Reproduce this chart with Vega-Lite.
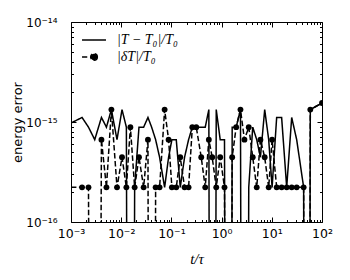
{
  "$schema": "https://vega.github.io/schema/vega-lite/v6.json",
  "width": 251,
  "height": 200,
  "autosize": {"type": "none"},
  "padding": {"left": 71, "top": 22, "right": 28, "bottom": 58},
  "background": "white",
  "config": {
    "view": {"stroke": "black", "strokeWidth": 1},
    "axis": {
      "domain": false,
      "grid": false,
      "tickColor": "black",
      "tickWidth": 1,
      "labelColor": "black",
      "labelFont": "DejaVu Sans",
      "labelFontSize": 12.5,
      "labelOverlap": false,
      "labelBound": false,
      "labelFlush": false,
      "titleColor": "black",
      "titleFontWeight": "normal"
    }
  },
  "data": {
    "values": [
      {"t": 0.00069, "series": "|T − T₀|/T₀", "v": 8.88e-16},
      {"t": 0.00166, "series": "|T − T₀|/T₀", "v": 1.11e-15},
      {"t": 0.00223, "series": "|T − T₀|/T₀", "v": 8.88e-16},
      {"t": 0.00297, "series": "|T − T₀|/T₀", "v": 6.66e-16},
      {"t": 0.00404, "series": "|T − T₀|/T₀", "v": 1.11e-15},
      {"t": 0.00508, "series": "|T − T₀|/T₀", "v": 8.88e-16},
      {"t": 0.00638, "series": "|T − T₀|/T₀", "v": 1.33e-15},
      {"t": 0.00825, "series": "|T − T₀|/T₀", "v": 6.66e-16},
      {"t": 0.01038, "series": "|T − T₀|/T₀", "v": 1.33e-15},
      {"t": 0.01268, "series": "|T − T₀|/T₀", "v": 8.88e-16},
      {"t": 0.01524, "series": "|T − T₀|/T₀", "v": 1e-30},
      {"t": 0.01853, "series": "|T − T₀|/T₀", "v": 2.22e-16},
      {"t": 0.0226, "series": "|T − T₀|/T₀", "v": 8.88e-16},
      {"t": 0.028, "series": "|T − T₀|/T₀", "v": 8.88e-16},
      {"t": 0.0341, "series": "|T − T₀|/T₀", "v": 1.11e-15},
      {"t": 0.0404, "series": "|T − T₀|/T₀", "v": 8.88e-16},
      {"t": 0.0485, "series": "|T − T₀|/T₀", "v": 6.66e-16},
      {"t": 0.0582, "series": "|T − T₀|/T₀", "v": 4.44e-16},
      {"t": 0.0733, "series": "|T − T₀|/T₀", "v": 2.22e-16},
      {"t": 0.0879, "series": "|T − T₀|/T₀", "v": 4.44e-16},
      {"t": 0.1023, "series": "|T − T₀|/T₀", "v": 6.66e-16},
      {"t": 0.125, "series": "|T − T₀|/T₀", "v": 6.66e-16},
      {"t": 0.15, "series": "|T − T₀|/T₀", "v": 2.22e-16},
      {"t": 0.183, "series": "|T − T₀|/T₀", "v": 4.44e-16},
      {"t": 0.22, "series": "|T − T₀|/T₀", "v": 6.66e-16},
      {"t": 0.261, "series": "|T − T₀|/T₀", "v": 8.88e-16},
      {"t": 0.313, "series": "|T − T₀|/T₀", "v": 8.88e-16},
      {"t": 0.393, "series": "|T − T₀|/T₀", "v": 8.88e-16},
      {"t": 0.472, "series": "|T − T₀|/T₀", "v": 8.88e-16},
      {"t": 0.557, "series": "|T − T₀|/T₀", "v": 1.33e-15},
      {"t": 0.65, "series": "|T − T₀|/T₀", "v": 1e-30},
      {"t": 0.782, "series": "|T − T₀|/T₀", "v": 1.33e-15},
      {"t": 0.938, "series": "|T − T₀|/T₀", "v": 6.66e-16},
      {"t": 1.142, "series": "|T − T₀|/T₀", "v": 6.66e-16},
      {"t": 1.372, "series": "|T − T₀|/T₀", "v": 1e-30},
      {"t": 1.625, "series": "|T − T₀|/T₀", "v": 8.88e-16},
      {"t": 1.951, "series": "|T − T₀|/T₀", "v": 8.88e-16},
      {"t": 2.376, "series": "|T − T₀|/T₀", "v": 1.33e-15},
      {"t": 2.853, "series": "|T − T₀|/T₀", "v": 1e-30},
      {"t": 3.474, "series": "|T − T₀|/T₀", "v": 2.22e-16},
      {"t": 4.17, "series": "|T − T₀|/T₀", "v": 8.88e-16},
      {"t": 5.01, "series": "|T − T₀|/T₀", "v": 6.66e-16},
      {"t": 5.93, "series": "|T − T₀|/T₀", "v": 4.44e-16},
      {"t": 7.22, "series": "|T − T₀|/T₀", "v": 1.33e-15},
      {"t": 8.67, "series": "|T − T₀|/T₀", "v": 6.66e-16},
      {"t": 10.14, "series": "|T − T₀|/T₀", "v": 2.22e-16},
      {"t": 12.5, "series": "|T − T₀|/T₀", "v": 1.11e-15},
      {"t": 15.7, "series": "|T − T₀|/T₀", "v": 1.11e-15},
      {"t": 19.8, "series": "|T − T₀|/T₀", "v": 2.22e-16},
      {"t": 24.9, "series": "|T − T₀|/T₀", "v": 1.11e-15},
      {"t": 31.3, "series": "|T − T₀|/T₀", "v": 6.66e-16},
      {"t": 43.1, "series": "|T − T₀|/T₀", "v": 2.22e-16},
      {"t": 49.9, "series": "|T − T₀|/T₀", "v": 1e-30},
      {"t": 58.5, "series": "|T − T₀|/T₀", "v": 1.33e-15},
      {"t": 100, "series": "|T − T₀|/T₀", "v": 1.55e-15},
      {"t": 0.00069, "series": "|δT|/T₀", "v": 2.22e-16},
      {"t": 0.00166, "series": "|δT|/T₀", "v": 2.22e-16},
      {"t": 0.00223, "series": "|δT|/T₀", "v": 2.22e-16},
      {"t": 0.00297, "series": "|δT|/T₀", "v": 1e-30},
      {"t": 0.00404, "series": "|δT|/T₀", "v": 6.66e-16},
      {"t": 0.00508, "series": "|δT|/T₀", "v": 2.22e-16},
      {"t": 0.00638, "series": "|δT|/T₀", "v": 1.33e-15},
      {"t": 0.00825, "series": "|δT|/T₀", "v": 2.22e-16},
      {"t": 0.01038, "series": "|δT|/T₀", "v": 4.44e-16},
      {"t": 0.01268, "series": "|δT|/T₀", "v": 2.22e-16},
      {"t": 0.01524, "series": "|δT|/T₀", "v": 8.88e-16},
      {"t": 0.01853, "series": "|δT|/T₀", "v": 2.22e-16},
      {"t": 0.0226, "series": "|δT|/T₀", "v": 4.44e-16},
      {"t": 0.028, "series": "|δT|/T₀", "v": 2.22e-16},
      {"t": 0.0341, "series": "|δT|/T₀", "v": 6.66e-16},
      {"t": 0.0404, "series": "|δT|/T₀", "v": 1e-30},
      {"t": 0.0485, "series": "|δT|/T₀", "v": 2.22e-16},
      {"t": 0.0582, "series": "|δT|/T₀", "v": 2.22e-16},
      {"t": 0.0733, "series": "|δT|/T₀", "v": 1.33e-15},
      {"t": 0.0879, "series": "|δT|/T₀", "v": 6.66e-16},
      {"t": 0.1023, "series": "|δT|/T₀", "v": 2.22e-16},
      {"t": 0.125, "series": "|δT|/T₀", "v": 2.22e-16},
      {"t": 0.15, "series": "|δT|/T₀", "v": 4.44e-16},
      {"t": 0.183, "series": "|δT|/T₀", "v": 2.22e-16},
      {"t": 0.22, "series": "|δT|/T₀", "v": 2.22e-16},
      {"t": 0.261, "series": "|δT|/T₀", "v": 8.88e-16},
      {"t": 0.313, "series": "|δT|/T₀", "v": 8.88e-16},
      {"t": 0.393, "series": "|δT|/T₀", "v": 4.44e-16},
      {"t": 0.472, "series": "|δT|/T₀", "v": 2.22e-16},
      {"t": 0.557, "series": "|δT|/T₀", "v": 6.66e-16},
      {"t": 0.65, "series": "|δT|/T₀", "v": 4.44e-16},
      {"t": 0.782, "series": "|δT|/T₀", "v": 2.22e-16},
      {"t": 0.938, "series": "|δT|/T₀", "v": 4.44e-16},
      {"t": 1.142, "series": "|δT|/T₀", "v": 2.22e-16},
      {"t": 1.372, "series": "|δT|/T₀", "v": 1e-30},
      {"t": 1.625, "series": "|δT|/T₀", "v": 4.44e-16},
      {"t": 1.951, "series": "|δT|/T₀", "v": 8.88e-16},
      {"t": 2.376, "series": "|δT|/T₀", "v": 1.33e-15},
      {"t": 2.853, "series": "|δT|/T₀", "v": 6.66e-16},
      {"t": 3.474, "series": "|δT|/T₀", "v": 8.88e-16},
      {"t": 4.17, "series": "|δT|/T₀", "v": 4.44e-16},
      {"t": 5.01, "series": "|δT|/T₀", "v": 2.22e-16},
      {"t": 5.93, "series": "|δT|/T₀", "v": 6.66e-16},
      {"t": 7.22, "series": "|δT|/T₀", "v": 4.44e-16},
      {"t": 8.67, "series": "|δT|/T₀", "v": 2.22e-16},
      {"t": 10.14, "series": "|δT|/T₀", "v": 6.66e-16},
      {"t": 12.5, "series": "|δT|/T₀", "v": 2.22e-16},
      {"t": 15.7, "series": "|δT|/T₀", "v": 2.22e-16},
      {"t": 19.8, "series": "|δT|/T₀", "v": 2.22e-16},
      {"t": 24.9, "series": "|δT|/T₀", "v": 2.22e-16},
      {"t": 31.3, "series": "|δT|/T₀", "v": 2.22e-16},
      {"t": 43.1, "series": "|δT|/T₀", "v": 2.22e-16},
      {"t": 49.9, "series": "|δT|/T₀", "v": 1e-30},
      {"t": 58.5, "series": "|δT|/T₀", "v": 1.33e-15},
      {"t": 100, "series": "|δT|/T₀", "v": 1.55e-15}
    ]
  },
  "resolve": {"axis": {"x": "independent", "y": "independent"}},
  "layer": [
    {
      "mark": {"type": "line", "color": "black", "strokeWidth": 1.5, "clip": true},
      "encoding": {
        "x": {
          "field": "t", "type": "quantitative",
          "scale": {"type": "log", "domain": [0.001, 100], "nice": false},
          "axis": {
            "orient": "bottom",
            "values": [0.001,0.002,0.003,0.004,0.005,0.006,0.007,0.008,0.009,0.01,0.02,0.03,0.04,0.05,0.06,0.07,0.08,0.09,0.1,0.2,0.3,0.4,0.5,0.6,0.7,0.8,0.9,1,2,3,4,5,6,7,8,9,10,20,30,40,50,60,70,80,90,100],
            "labelExpr": "abs(log(datum.value)/LN10 - round(log(datum.value)/LN10)) > 0.01 ? '' : ['10⁻³','10⁻²','10⁻¹','10⁰','10¹','10²'][round(log(datum.value)/LN10)+3]",
            "tickSize": {"condition": {"test": "abs(log(datum.value)/LN10 - round(log(datum.value)/LN10)) < 0.01", "value": -5}, "value": -2.5},
            "labelPadding": 10,
            "title": "t/τ",
            "titleFont": "Liberation Serif",
            "titleFontStyle": "italic",
            "titleFontSize": 15,
            "titlePadding": 9
          }
        },
        "y": {
          "field": "v", "type": "quantitative",
          "scale": {"type": "log", "domain": [1e-16, 1e-14], "nice": false},
          "axis": {
            "orient": "left",
            "values": [1e-16,2e-16,3e-16,4e-16,5e-16,6e-16,7e-16,8e-16,9e-16,1e-15,2e-15,3e-15,4e-15,5e-15,6e-15,7e-15,8e-15,9e-15,1e-14],
            "labelExpr": "abs(log(datum.value)/LN10 - round(log(datum.value)/LN10)) > 0.01 ? '' : ['10⁻¹⁶','10⁻¹⁵','10⁻¹⁴'][round(log(datum.value)/LN10)+16]",
            "tickSize": {"condition": {"test": "abs(log(datum.value)/LN10 - round(log(datum.value)/LN10)) < 0.01", "value": -5}, "value": -2.5},
            "labelFontSize": 12,
            "labelPadding": 19,
            "title": "energy error",
            "titleFont": "DejaVu Sans",
            "titleFontSize": 13,
            "titlePadding": 1
          }
        },
        "strokeDash": {
          "field": "series", "type": "nominal",
          "scale": {"domain": ["|T − T₀|/T₀", "|δT|/T₀"], "range": [[1, 0], [5.5, 2.5]]},
          "legend": {
            "orient": "none",
            "legendX": 13,
            "legendY": 8,
            "title": null,
            "symbolSize": 324,
            "symbolStrokeWidth": 1.5,
            "symbolStrokeColor": "black",
            "symbolFillColor": "black",
            "symbolDash": [1, 0],
            "labelFont": "Liberation Serif",
            "labelFontStyle": "italic",
            "labelFontSize": 14,
            "labelColor": "black",
            "labelOffset": 13,
            "rowPadding": 0,
            "padding": 0,
            "encode": {
              "symbols": {
                "update": {
                  "shape": {"signal": "datum.value === '|δT|/T₀' ? 'M-1.33,0H-0.75M0.37,0A0.37,0.37,0,1,1,-0.37,0A0.37,0.37,0,1,1,0.37,0Z' : 'M-1.33,0H1.33'"},
                  "strokeDash": {"value": [1, 0]}
                }
              }
            }
          }
        }
      }
    },
    {
      "transform": [{"filter": "datum.series === '|δT|/T₀'"}],
      "mark": {"type": "circle", "size": 34, "color": "black", "opacity": 1, "clip": true},
      "encoding": {
        "x": {
          "field": "t", "type": "quantitative",
          "axis": {
            "orient": "top",
            "values": [0.001,0.002,0.003,0.004,0.005,0.006,0.007,0.008,0.009,0.01,0.02,0.03,0.04,0.05,0.06,0.07,0.08,0.09,0.1,0.2,0.3,0.4,0.5,0.6,0.7,0.8,0.9,1,2,3,4,5,6,7,8,9,10,20,30,40,50,60,70,80,90,100],
            "labels": false,
            "title": null,
            "tickSize": {"condition": {"test": "abs(log(datum.value)/LN10 - round(log(datum.value)/LN10)) < 0.01", "value": -5}, "value": -2.5}
          }
        },
        "y": {
          "field": "v", "type": "quantitative",
          "axis": {
            "orient": "right",
            "values": [1e-16,2e-16,3e-16,4e-16,5e-16,6e-16,7e-16,8e-16,9e-16,1e-15,2e-15,3e-15,4e-15,5e-15,6e-15,7e-15,8e-15,9e-15,1e-14],
            "labels": false,
            "title": null,
            "tickSize": {"condition": {"test": "abs(log(datum.value)/LN10 - round(log(datum.value)/LN10)) < 0.01", "value": -5}, "value": -2.5}
          }
        }
      }
    }
  ]
}
